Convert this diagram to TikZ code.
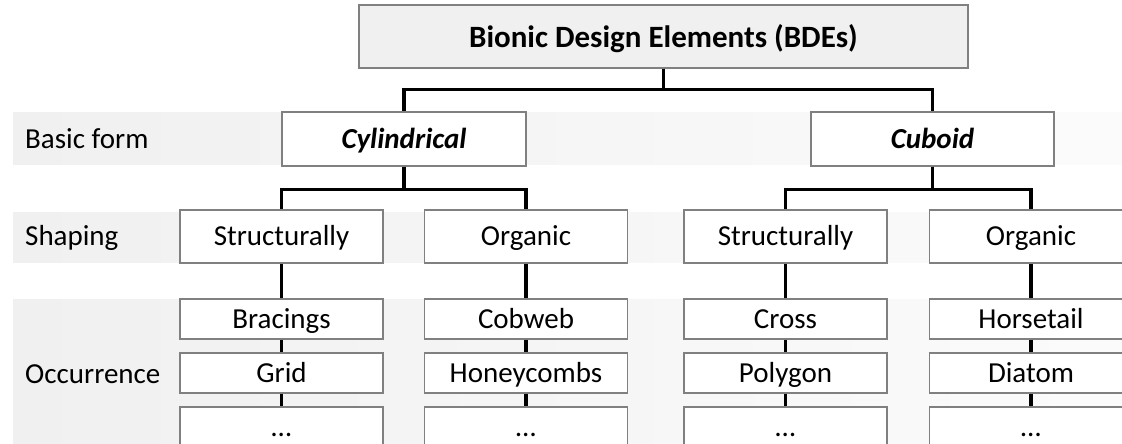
\documentclass[tikz,border=0pt]{standalone}
\usepackage{fontspec}
\setmainfont{Carlito}
\usepackage{tikz}
\usetikzlibrary{positioning}
\definecolor{boxline}{RGB}{128,128,128}
\definecolor{bandgray}{RGB}{240,240,240}

\begin{document}
\begin{tikzpicture}[x=1pt,y=-1pt,font=\fontsize{29}{33}\selectfont,
box/.style={draw=boxline,line width=1.1pt,fill=white,inner sep=0pt,minimum width=203pt,
 text height=20pt,text depth=2pt},
toprow/.style={box,minimum height=53pt},
occ/.style={box,minimum height=40pt},
rowlabel/.style={anchor=west,inner sep=0pt,text height=20pt,text depth=2pt},
link/.style={line width=3.2pt,draw=black},
band/.style={left color=bandgray,right color=bandgray!25}]

\useasboundingbox(0,0)rectangle(1122,444);
% row bands
\shade[band](13,112)rectangle(1122,164);
\shade[band](13,212)rectangle(1122,262);
\shade[band](13,299)rectangle(1122,444);
\node[rowlabel](lbasic)at(25,139){Basic form};
\node[rowlabel](lshape)at(25,236.5){Shaping};
\node[rowlabel](locc)at(25,374){Occurrence};

\node[box,fill=bandgray,minimum width=609pt,minimum height=63pt,text height=22pt,text depth=0pt,
 font=\fontsize{31}{35}\selectfont\bfseries](bde)at(663.5,36.5){Bionic Design Elements (BDEs)};
\node[box,minimum width=244pt,minimum height=54pt,font=\fontsize{29}{33}\selectfont\bfseries\itshape](cyl)at(404,139){Cylindrical};
\node[box,minimum width=243pt,minimum height=54pt,font=\fontsize{29}{33}\selectfont\bfseries\itshape](cub)at(932.5,139){Cuboid};
\draw[link](bde.south)--++(0,21)-|(cyl.north);
\draw[link](bde.south)--++(0,21)-|(cub.north);

\foreach \nm/\up/\xx/\kind/\ea/\eb in {s1/cyl/281.5/Structurally/Bracings/Grid,
 o1/cyl/526/Organic/Cobweb/Honeycombs,
 s2/cub/785.5/Structurally/Cross/Polygon,
 o2/cub/1031/Organic/Horsetail/Diatom}{
 \node[toprow](\nm)at(\xx,236.5){\kind};
 \node[occ](\nm a)at(\xx,319){\ea};
 \node[occ](\nm b)at(\xx,373){\eb};
 \node[occ](\nm c)at(\xx,427){\dots};
 \draw[link](\up.south)--++(0,23)-|(\nm.north);
 \draw[link](\nm.south)--(\nm a.north);
 \draw[link](\nm a.south)--(\nm b.north);
 \draw[link](\nm b.south)--(\nm c.north);
}
\end{tikzpicture}
\end{document}
